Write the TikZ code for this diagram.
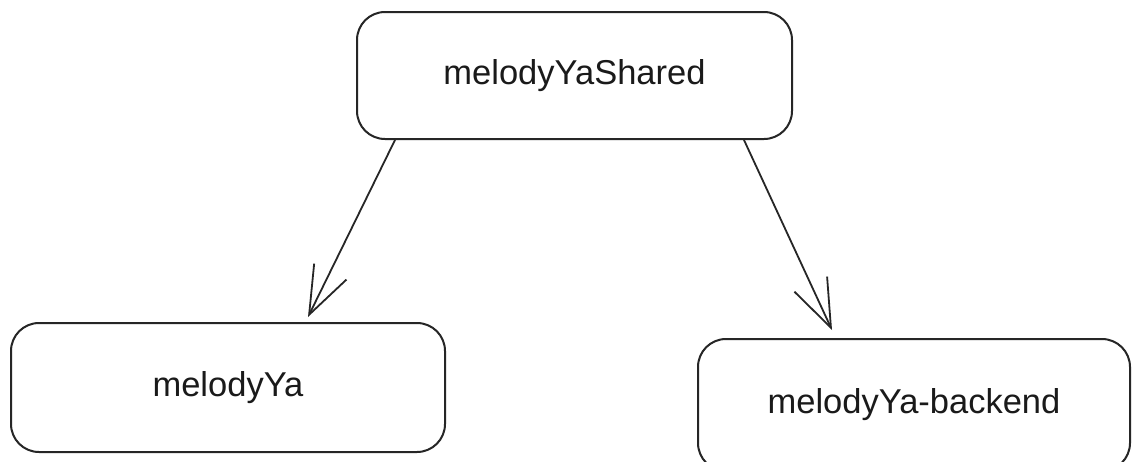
\documentclass[tikz,border=0pt]{standalone}
\usepackage{fontspec}
\setmainfont{Liberation Sans}
\usetikzlibrary{arrows.meta}
\definecolor{linecol}{HTML}{262626}
\definecolor{textcol}{HTML}{1A1A1A}
\begin{document}
\begin{tikzpicture}[x=1pt,y=1pt,
  box/.style={draw=linecol, line width=2pt, rounded corners=28pt, fill=white,
    text=textcol, font=\fontsize{34.5}{40}\selectfont, inner sep=0pt},
  conn/.style={draw=linecol, line width=1.8pt,
    -{Straight Barb[length=48pt,width=36pt,line width=1.8pt]}}]
\useasboundingbox (0,0) rectangle (1132,-461);
\fill[white] (0,0) rectangle (1132,-461);
\node[box, minimum width=435pt, minimum height=127pt] (shared) at (574.5,-75.5) {melodyYaShared};
\node[box, minimum width=434pt, minimum height=129pt] (ya) at (228,-387.5) {melodyYa};
\node[box, minimum width=432pt, minimum height=132pt] (backend) at (914,-405) {melodyYa-backend};
\draw[conn] ([xshift=39pt]shared.south west) -- ([xshift=298pt,yshift=5pt]ya.north west);
\draw[conn] ([xshift=-49pt]shared.south east) -- ([xshift=135pt,yshift=8pt]backend.north west);
\end{tikzpicture}
\end{document}
